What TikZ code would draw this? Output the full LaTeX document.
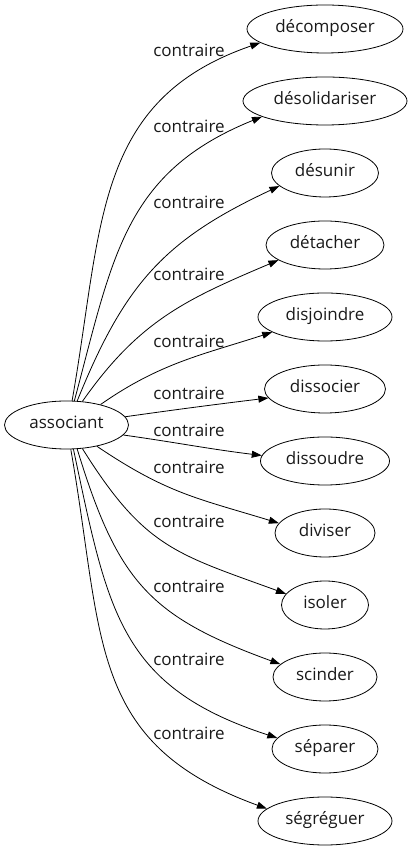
\documentclass[tikz,border=0pt]{standalone}
\usepackage{fontspec}
\setmainfont{Open Sans}
\usetikzlibrary{arrows.meta, shapes.geometric}
\tikzset{every node/.style={font=\fontsize{17}{20}\selectfont}}
\colorlet{edgecol}{black}
\colorlet{wordcol}{black!90}

\begin{document}
\begin{tikzpicture}[x=1pt, y=1pt, >={Triangle[length=10pt, width=7pt]},
  word/.style={draw=edgecol, ellipse, line width=0.8pt, minimum height=48pt,
    inner sep=0pt, text height=12pt, text depth=4pt, text=wordcol},
  rel/.style={->, line width=0.8pt, edgecol}]

  % Frame.
  \useasboundingbox (0,0) rectangle (412,851);

  % Source word.
  \node[word, minimum width=124pt] (src) at (66.5,426) {associant};

  % Target words, top to bottom.
  \foreach \n/\txt/\w [count=\i from 0] in {
      dec/décomposer/156, deso/désolidariser/164, desu/désunir/107,
      deta/détacher/118, disj/disjoindre/134, dissc/dissocier/121,
      dissd/dissoudre/129, divi/diviser/100, isol/isoler/87,
      scin/scinder/104, sepa/séparer/106, segr/ségréguer/134} {
    \node[word, minimum width=\w pt] (\n) at (325,{822-72*\i}) {\txt};
  }

  % Relations.
  \foreach \n/\sa/\o/\ia/\ta/\l in {
      dec/77/80/199/192/1.12, deso/72/75/202/194/1.12, desu/66/68/205/196/1.1,
      deta/56/55/203/198/1.05, disj/31/35/198/196/1, dissc/8/8/187/189/1,
      dissd/350/-8/173/175/1, divi/325/-34/163/168/1.1, isol/304/-58/160/164/1.2,
      scin/294/-73/160/164/1.2, sepa/286/-78/162/167/1.2, segr/280/-80/160/168/1.2} {
    \draw[rel] (src.\sa) to[out=\o, in=\ia, looseness=\l] (\n.\ta);
  }

  % Edge labels.
  \foreach \y [count=\i] in {801,725,649,577,510,458,421,384,330,265,192,118} {
    \node[text=wordcol] (lab\i) at (189,\y) {contraire};
  }

\end{tikzpicture}
\end{document}
